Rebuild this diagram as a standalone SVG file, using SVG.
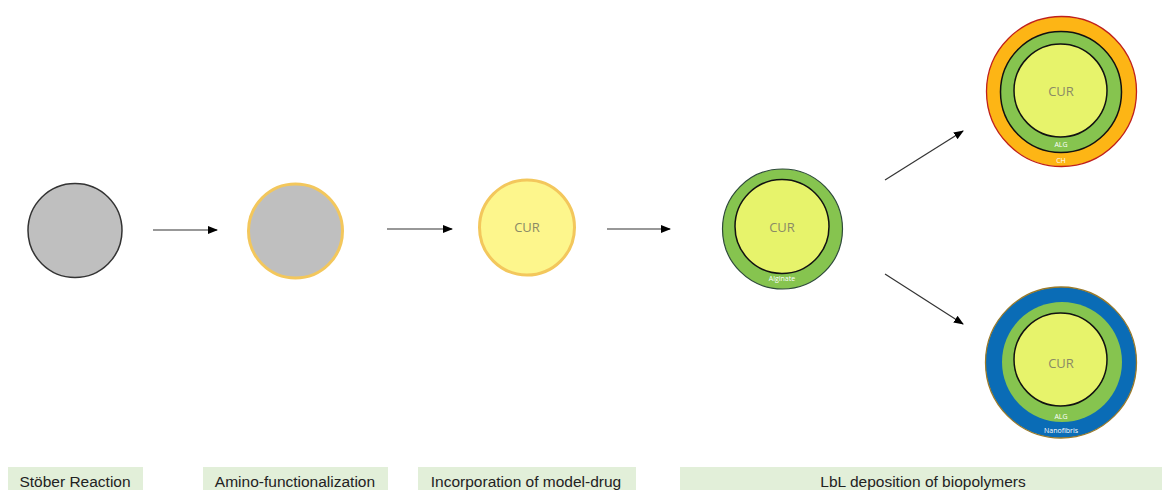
<svg xmlns="http://www.w3.org/2000/svg" width="1162" height="490" viewBox="0 0 1162 490">
<style>
.cur{font-family:"Open Sans","Liberation Sans",sans-serif;font-size:13px;fill:#8a8a66;text-anchor:middle}
.sm{font-family:"Open Sans","Liberation Sans",sans-serif;font-size:7px;fill:#ffffff;text-anchor:middle}
.lbl{font-family:"Liberation Sans",Arial,sans-serif;font-size:15.5px;fill:#222;text-anchor:middle}
.box{fill:#e2efd9}
.conn{stroke:#333;stroke-width:1.2;fill:none;marker-end:url(#ah)}
.core{fill:#e7f36b;stroke:#111;stroke-width:1.5}
.alg{fill:#86c44f}
</style>
<defs>
<marker id="ah" markerWidth="10" markerHeight="8" refX="9" refY="4" orient="auto" markerUnits="userSpaceOnUse">
<path d="M0,0 L10,4 L0,8 Z" fill="#000"/>
</marker>
</defs>
<rect width="1162" height="490" fill="#fff"/>
<g id="connectors">
<line class="conn" x1="153" y1="230" x2="217" y2="230"/>
<line class="conn" x1="387" y1="229" x2="452" y2="229"/>
<line class="conn" x1="607" y1="229" x2="670" y2="229"/>
<line class="conn" x1="885" y1="180" x2="963" y2="131"/>
<line class="conn" x1="885" y1="274" x2="963" y2="324"/>
</g>
<g id="n1"><circle cx="75" cy="230.5" r="47" fill="#bfbfbf" stroke="#333" stroke-width="1.5"/></g>
<g id="n2"><circle cx="295.5" cy="231" r="47" fill="#bfbfbf" stroke="#f3c75c" stroke-width="3"/></g>
<g id="n3"><circle cx="527" cy="227.5" r="47.5" fill="#fdf68c" stroke="#f3c75c" stroke-width="3"/><text class="cur" x="527" y="232">CUR</text></g>
<g id="n4">
<circle cx="782.5" cy="229" r="60" class="alg" stroke="#2e4a3a" stroke-width="1.2"/>
<circle cx="782" cy="226.5" r="47" class="core"/>
<text class="cur" x="782" y="232">CUR</text>
<text class="sm" x="782" y="281">Alginate</text>
</g>
<g id="n5">
<circle cx="1061.5" cy="91.5" r="75" fill="#fdb515" stroke="#c0201a" stroke-width="1.3"/>
<circle cx="1061" cy="92" r="60.5" class="alg" stroke="#111" stroke-width="1.5"/>
<circle cx="1060.5" cy="90.5" r="46.5" class="core"/>
<text class="cur" x="1061" y="96">CUR</text>
<text class="sm" x="1061" y="147">ALG</text>
<text class="sm" x="1061" y="163">CH</text>
</g>
<g id="n6">
<circle cx="1061" cy="362.5" r="75.5" fill="#0a6cb6" stroke="#9a7a2a" stroke-width="1.3"/>
<circle cx="1062" cy="362" r="60" class="alg"/>
<circle cx="1060.5" cy="359.5" r="46.5" class="core"/>
<text class="cur" x="1061" y="368">CUR</text>
<text class="sm" x="1061" y="419">ALG</text>
<text class="sm" x="1061" y="433">Nanofibris</text>
</g>
<g id="l1"><rect class="box" x="8" y="467" width="135" height="23"/><text class="lbl" x="75" y="487">Stöber Reaction</text></g>
<g id="l2"><rect class="box" x="203" y="467" width="185" height="23"/><text class="lbl" x="295" y="487">Amino-functionalization</text></g>
<g id="l3"><rect class="box" x="418" y="467" width="218" height="23"/><text class="lbl" x="526" y="487">Incorporation of model-drug</text></g>
<g id="l4"><rect class="box" x="680" y="467" width="482" height="23"/><text class="lbl" x="923" y="487">LbL deposition of biopolymers</text></g>
</svg>
